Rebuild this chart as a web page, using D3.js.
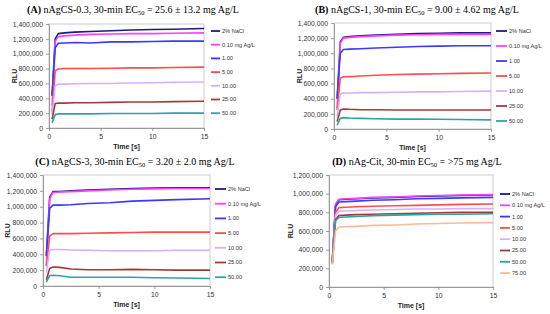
<!DOCTYPE html>
<html><head><meta charset="utf-8">
<script src="https://cdn.jsdelivr.net/npm/d3@7"></script>
<style>
html,body{margin:0;padding:0;background:#fff;}
svg{display:block;}
</style>
</head><body>
<svg id="chart" width="550" height="314"></svg>
<script>
// Time points (s)
const times = [0.3, 0.6, 0.9, 1.5, 2.5, 4, 6, 8, 10, 12, 15];
const seriesNames = ["2% NaCl", "0.10 mg Ag/L", "1.00", "5.00", "10.00", "25.00", "50.00", "75.00"];
const seriesColors = ["#1c1c80", "#ff40ff", "#3a3aff", "#ff4d4d", "#d6b0ff", "#a33a3a", "#2fa3a0", "#ffb89a"];
const xTicks = [0, 5, 10, 15];
const yTicks14 = [0, 200000, 400000, 600000, 800000, 1000000, 1200000, 1400000];
const yTicks12 = [0, 200000, 400000, 600000, 800000, 1000000, 1200000];

// Panel A: nAgCS-0.3
const panelA = [
  [440000,1200000,1270000,1280000,1290000,1300000,1310000,1320000,1325000,1330000,1340000],
  [300000,1170000,1230000,1240000,1250000,1260000,1265000,1270000,1270000,1275000,1280000],
  [430000,1080000,1140000,1145000,1150000,1145000,1160000,1160000,1165000,1170000,1170000],
  [220000,770000,795000,800000,800000,800000,805000,810000,810000,815000,820000],
  [180000,570000,590000,590000,595000,600000,600000,605000,610000,615000,620000],
  [120000,330000,335000,335000,340000,340000,345000,350000,350000,355000,360000],
  [70000,180000,190000,190000,190000,190000,195000,195000,195000,200000,200000]
];
// Panel B: nAgCS-1
const panelB = [
  [400000,1150000,1210000,1220000,1230000,1240000,1250000,1260000,1265000,1270000,1270000],
  [270000,1130000,1200000,1210000,1220000,1230000,1240000,1245000,1250000,1250000,1250000],
  [400000,1000000,1050000,1055000,1060000,1070000,1080000,1090000,1095000,1100000,1100000],
  [250000,670000,690000,690000,700000,710000,720000,725000,730000,735000,740000],
  [170000,460000,475000,475000,480000,480000,485000,490000,490000,495000,500000],
  [100000,250000,265000,260000,255000,255000,250000,250000,250000,250000,250000],
  [50000,140000,150000,145000,140000,135000,130000,130000,128000,125000,120000]
];
// Panel C: nAgCS-3
const panelC = [
  [380000,1120000,1190000,1190000,1200000,1210000,1220000,1230000,1235000,1240000,1240000],
  [250000,1100000,1180000,1185000,1190000,1200000,1210000,1220000,1225000,1230000,1230000],
  [380000,980000,1020000,1020000,1025000,1040000,1050000,1070000,1080000,1090000,1100000],
  [250000,630000,660000,660000,660000,665000,670000,675000,680000,680000,680000],
  [170000,450000,460000,460000,455000,450000,445000,445000,445000,450000,450000],
  [80000,220000,240000,235000,215000,205000,205000,210000,205000,200000,200000],
  [50000,130000,135000,130000,110000,110000,110000,110000,105000,100000,95000]
];
// Panel D: nAg-Cit
const panelD = [
  [270000,880000,935000,940000,945000,955000,960000,970000,975000,980000,985000],
  [270000,890000,940000,945000,950000,960000,965000,975000,980000,985000,990000],
  [270000,860000,910000,915000,920000,930000,935000,945000,950000,955000,960000],
  [260000,800000,850000,855000,860000,865000,870000,875000,880000,885000,890000],
  [260000,770000,810000,815000,820000,825000,830000,835000,835000,840000,840000],
  [250000,720000,765000,770000,775000,780000,785000,790000,795000,800000,800000],
  [250000,710000,745000,750000,755000,765000,770000,775000,780000,780000,785000],
  [240000,600000,640000,645000,650000,660000,665000,675000,680000,685000,690000]
];

const svg = d3.select("#chart");
const fmt = d3.format(",");

const panels = [
  {label:"(A)", name:" nAgCS-0.3, 30-min EC", tail:" = 25.6 ± 13.2 mg Ag/L", data:panelA, yMax:1400000, yTicks:yTicks14,
   x0:49, x1:204, y0:24, y1:128, titleX:133, titleY:13, rluX:15, legX:211, legY:31, legDy:13.7, legLen:9},
  {label:"(B)", name:" nAgCS-1, 30-min EC", tail:" = 9.00 ± 4.62 mg Ag/L", data:panelB, yMax:1400000, yTicks:yTicks14,
   x0:334, x1:491, y0:23, y1:129, titleX:417, titleY:13, rluX:300, legX:496, legY:31, legDy:15, legLen:11},
  {label:"(C)", name:" nAgCS-3, 30-min EC", tail:" = 3.20 ± 2.0 mg Ag/L", data:panelC, yMax:1400000, yTicks:yTicks14,
   x0:43, x1:210, y0:175, y1:286, titleX:135, titleY:165, rluX:8, legX:215, legY:189, legDy:14.7, legLen:11},
  {label:"(D)", name:" nAg-Cit, 30-min EC", tail:" = >75 mg Ag/L", data:panelD, yMax:1200000, yTicks:yTicks12,
   x0:329, x1:493, y0:175, y1:287, titleX:417, titleY:165, rluX:291, legX:500, legY:194, legDy:11.3, legLen:10}
];

panels.forEach(p => {
  const g = svg.append("g");
  const x = d3.scaleLinear().domain([0, 15]).range([p.x0, p.x1]);
  const y = d3.scaleLinear().domain([0, p.yMax]).range([p.y1, p.y0]);

  // Title
  const t = g.append("text").attr("x", p.titleX).attr("y", p.titleY)
    .attr("text-anchor", "middle")
    .style("font-family", "'Liberation Serif', 'Times New Roman', serif")
    .style("font-size", "10px").attr("fill", "#000");
  t.append("tspan").style("font-weight", "bold").text(p.label);
  t.append("tspan").text(p.name);
  t.append("tspan").attr("dy", 1.8).style("font-size", "6.5px").text("50");
  t.append("tspan").attr("dy", -1.8).text(p.tail);

  // plot border
  g.append("rect").attr("x", p.x0).attr("y", p.y0).attr("width", p.x1 - p.x0).attr("height", p.y1 - p.y0)
    .attr("fill", "none").attr("stroke", "#bfbfbf").attr("stroke-width", 0.8);

  // axes
  const xa = g.append("g").attr("transform", `translate(0,${p.y1})`)
    .call(d3.axisBottom(x).tickValues(xTicks).tickSize(3).tickSizeOuter(0).tickPadding(3));
  const ya = g.append("g").attr("transform", `translate(${p.x0},0)`)
    .call(d3.axisLeft(y).tickValues(p.yTicks).tickFormat(fmt).tickSize(3).tickSizeOuter(0).tickPadding(3));
  [xa, ya].forEach(a => {
    a.selectAll("path").attr("stroke", "#868686").attr("stroke-width", 0.8);
    a.selectAll("line").attr("stroke", "#868686").attr("stroke-width", 0.8);
    a.selectAll("text").style("font-family", "'Liberation Sans', Arial, sans-serif")
      .style("font-size", "6.8px").attr("fill", "#333");
  });

  // axis titles
  g.append("text").attr("x", (p.x0 + p.x1) / 2).attr("y", p.y1 + 21)
    .attr("text-anchor", "middle").style("font-family", "'Liberation Sans', Arial, sans-serif")
    .style("font-size", "7px").style("font-weight", "bold").attr("fill", "#222").text("Time [s]");
  g.append("text").attr("transform", `translate(${p.rluX},${(p.y0 + p.y1) / 2}) rotate(-90)`)
    .attr("text-anchor", "middle").attr("dy", "0.35em").style("font-family", "'Liberation Sans', Arial, sans-serif")
    .style("font-size", "7px").style("font-weight", "bold").attr("fill", "#222").text("RLU");

  // lines
  const line = d3.line().x((d, i) => x(times[i])).y(d => y(d));
  p.data.forEach((s, i) => {
    g.append("path").datum(s).attr("d", line).attr("fill", "none")
      .attr("stroke", seriesColors[i]).attr("stroke-width", 1.6).attr("stroke-linejoin", "round");
  });

  // legend
  p.data.forEach((s, i) => {
    const ly = p.legY + i * p.legDy;
    g.append("line").attr("x1", p.legX).attr("x2", p.legX + p.legLen).attr("y1", ly).attr("y2", ly)
      .attr("stroke", seriesColors[i]).attr("stroke-width", 1.8);
    g.append("text").attr("x", p.legX + p.legLen + 2).attr("y", ly).attr("dy", "0.35em")
      .style("font-family", "'Liberation Sans', Arial, sans-serif").style("font-size", "5.6px")
      .attr("fill", "#333").text(seriesNames[i]);
  });
});
</script>
</body></html>
